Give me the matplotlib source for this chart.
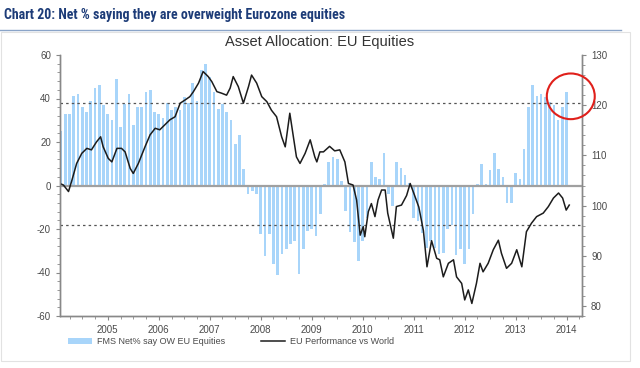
import numpy as np
import matplotlib
matplotlib.use("Agg")
import matplotlib.pyplot as plt
from matplotlib.patches import Ellipse, Patch, Rectangle
from matplotlib.lines import Line2D
from matplotlib.ticker import MultipleLocator

plt.rcParams['font.family'] = ['Liberation Sans', 'DejaVu Sans']
plt.rcParams['axes.unicode_minus'] = False

# FMS net % overweight EU equities, monthly from Feb 2004
fms_net_ow = [25, 33, 33, 41, 42, 36, 34, 39, 45, 46,
              37, 33, 30, 49, 27, 37.5, 42, 28, 36, 36,
              43, 44, 34, 33, 31, 38, 34.5, 36, 34.5, 40.6,
              38, 47, 39, 53, 56, 50, 43, 35, 37.5, 33.7,
              30, 19, 23, 7.7, -4,
              -2.3, -4, -22.5, -32.5, -22.5, -36, -41, -31.4, -29.4, -27,
              -25.6, -40.5, -29.4, -21, -20, -23.3, -13.3, 0.5, 11, 13,
              12, 2, -11.5, -21.3, -26, -34.5, -25.6, -15, 11, 3.8,
              2.8, 15, -4,
              -9.5, 11, 8, 5, 1, -15, -16.5, -21.8, -28.7, -25.6,
              -28.7, -31.7, -31, -20, -18, -32, -29, -35.9, -29.4, -13.3,
              0.5, 10, 0.8, 6.9, 15, 7.8, 3.8, -8, -8, 5.8,
              3, 16.9, 36, 46, 41, 42, 40.5, 38.5, 37, 30,
              36, 43]
first_month = 2004 + 1 / 12

# EU performance vs world (right axis)
perf_years = [2004.06, 2004.13, 2004.23, 2004.29, 2004.39, 2004.49, 2004.59, 2004.68,
              2004.78, 2004.86, 2004.91, 2005.01, 2005.08, 2005.18, 2005.27, 2005.34,
              2005.44, 2005.50, 2005.60, 2005.73, 2005.83, 2005.93, 2006.02, 2006.12,
              2006.22, 2006.32, 2006.42, 2006.51, 2006.61, 2006.68, 2006.78, 2006.87,
              2006.97, 2007.04, 2007.14, 2007.23, 2007.33, 2007.40, 2007.46, 2007.56,
              2007.66, 2007.76, 2007.82, 2007.92, 2008.02, 2008.12, 2008.21, 2008.31,
              2008.41, 2008.48, 2008.57, 2008.64, 2008.70, 2008.77, 2008.87, 2008.97,
              2009.06, 2009.10, 2009.16, 2009.23, 2009.35, 2009.45, 2009.55, 2009.65,
              2009.72, 2009.81, 2009.88, 2009.95, 2010.01, 2010.04, 2010.11, 2010.17,
              2010.24, 2010.30, 2010.37, 2010.44, 2010.49, 2010.60, 2010.66, 2010.76,
              2010.86, 2010.93, 2011.00, 2011.10, 2011.19, 2011.26, 2011.35, 2011.45,
              2011.51, 2011.58, 2011.68, 2011.78, 2011.84, 2011.94, 2012.00, 2012.07,
              2012.14, 2012.23, 2012.30, 2012.36, 2012.46, 2012.56, 2012.66, 2012.72,
              2012.82, 2012.92, 2013.02, 2013.12, 2013.21, 2013.31, 2013.41, 2013.54,
              2013.64, 2013.74, 2013.84, 2013.92, 2013.99, 2014.05]
perf_values = [104.4, 104.1, 102.8, 104.8, 108.4, 110.4, 111.4, 111.1,
               112.7, 113.7, 111.7, 109.4, 108.7, 111.4, 111.4, 110.7,
               107.4, 106.4, 108.4, 111.7, 114.1, 115.4, 115.1, 116.1,
               117.1, 117.7, 120.4, 121.0, 121.7, 122.7, 124.4, 126.7,
               125.7, 124.7, 122.7, 122.4, 122.0, 123.4, 125.7, 123.7,
               120.4, 123.7, 126.0, 124.4, 121.7, 120.7, 119.0, 117.7,
               113.7, 111.7, 118.4, 113.7, 109.7, 108.4, 110.4, 113.1,
               109.7, 108.7, 110.7, 110.7, 111.8, 110.9, 111.1, 108.7,
               104.4, 104.1, 101.1, 94.1, 95.8, 93.8, 98.8, 100.4,
               97.8, 101.1, 103.1, 103.1, 98.5, 93.5, 99.8, 100.1,
               102.0, 104.4, 102.5, 99.7, 95.0, 87.8, 93.0, 89.5,
               89.2, 85.8, 88.5, 89.2, 85.8, 84.5, 81.2, 83.2,
               80.5, 84.5, 88.5, 86.8, 88.5, 91.2, 93.1, 90.5,
               87.5, 88.5, 91.2, 87.8, 94.8, 96.5, 97.8, 98.5,
               99.8, 101.5, 102.5, 101.5, 99.1, 100.1]

year_ticks = list(range(2005, 2015))
upper_band = 38
lower_band = -18

bar_x = first_month + np.arange(len(fms_net_ow)) / 12

fig = plt.figure(figsize=(6.4, 3.68), dpi=100)

# frame + title rule
fig.add_artist(Rectangle((0.002, 1 - 361 / 368), 0.982, 329 / 368, transform=fig.transFigure,
                         fill=False, edgecolor='#e2e2e2', lw=0.8))
fig.add_artist(Line2D([0.0, 0.97], [1 - 30 / 368] * 2, transform=fig.transFigure,
                      color='#8aa4c8', lw=1.0))
fig.text(0.006, 1 - 15 / 368, 'Chart 20: Net % saying they are overweight Eurozone equities',
         ha='left', va='center', fontsize=10, fontweight='bold', color='#1d3c78',
         family=['Roboto Condensed', 'Liberation Sans'], fontstretch='condensed')
fig.text(0.5, 1 - 42 / 368, 'Asset Allocation: EU Equities', ha='center', va='center',
         fontsize=10.5, color='#333333')

ax = fig.add_axes([60 / 640, 52 / 368, 522 / 640, 261 / 368])
ax.bar(bar_x, fms_net_ow, width=0.05, color='#a8d5fa', zorder=2)
ax.axhline(0, color='#a0a0a0', lw=1.6, zorder=3)
ax.axhline(upper_band, color='#555555', lw=0.9, ls=(0, (2, 2.5)), zorder=3)
ax.axhline(lower_band, color='#555555', lw=0.9, ls=(0, (2, 2.5)), zorder=3)
ax.set_ylim(-60, 60)
ax.set_xlim(first_month - 0.02, 2014.30)
ax.set_yticks(range(-60, 61, 20))
ax.yaxis.set_minor_locator(MultipleLocator(4))
ax.set_xticks(year_ticks)
ax.xaxis.set_minor_locator(MultipleLocator(0.25))

ax2 = ax.twinx()
ax2.plot(perf_years, perf_values, color='#1c1c1c', lw=1.1)
ax2.set_ylim(78, 130)
ax2.set_yticks(range(80, 131, 10))
ax2.yaxis.set_minor_locator(MultipleLocator(2))

for a in (ax, ax2):
    a.spines['top'].set_visible(False)
    for s in ('left', 'right', 'bottom'):
        a.spines[s].set_color('#888888')
        a.spines[s].set_linewidth(1.0)
    a.tick_params(which='major', length=3, color='#888888', labelsize=7, labelcolor='#4a4a4a')
    a.tick_params(which='minor', length=2, color='#888888')

ax2.add_patch(Ellipse((2014.08, 41), 0.94, 21, transform=ax.transData, fill=False,
                      edgecolor='#e0201b', lw=1.5, clip_on=False, zorder=10))

handles = [Patch(facecolor='#a8d5fa', edgecolor='none'),
           Line2D([], [], color='#1c1c1c', lw=1.1)]
fig.legend(handles, ['FMS Net% say OW EU Equities', 'EU Performance vs World'],
           loc='center left', bbox_to_anchor=(60 / 640, 1 - 342 / 368), ncol=2,
           frameon=False, fontsize=6.5, labelcolor='#4a4a4a', handlelength=2.6,
           handleheight=0.6, columnspacing=4.0, handletextpad=0.6)

fig.savefig('out.png', dpi=100)
